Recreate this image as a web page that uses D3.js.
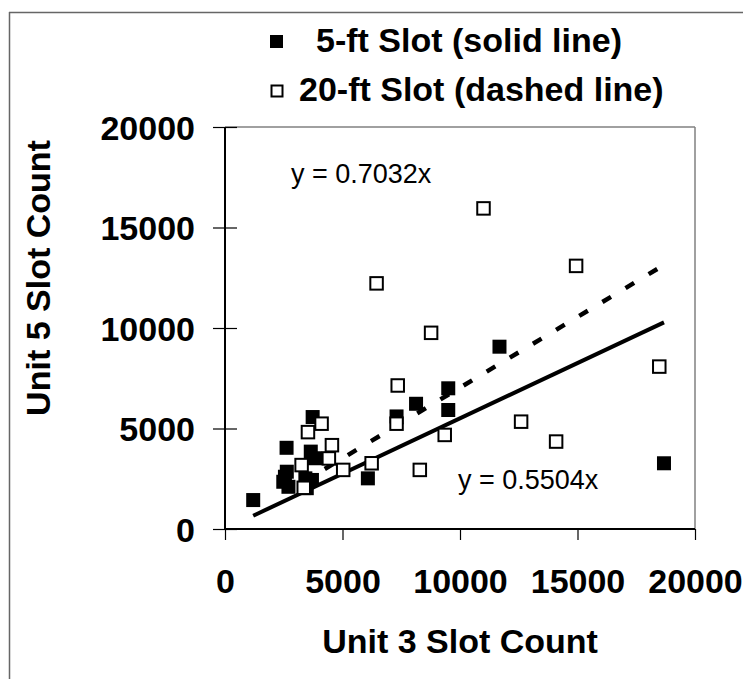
<!DOCTYPE html>
<html>
<head>
<meta charset="utf-8">
<script src="https://cdn.jsdelivr.net/npm/d3@7"></script>
<style>
  html, body { margin: 0; padding: 0; background: #fff; }
  svg { display: block; }
  text { font-family: "Liberation Sans", Arial, sans-serif; fill: #000; }
</style>
</head>
<body>
<svg id="chart" width="743" height="679"></svg>
<script>
// ---- data ----
const slot5ft = [
  [1200, 1440], [2620, 4040], [3730, 5570], [3650, 3850], [3830, 3520],
  [2630, 2850], [2550, 2600], [2480, 2350], [2700, 2100], [3420, 2520],
  [3700, 2440], [3480, 2030], [6080, 2520], [7300, 5600], [8130, 6230],
  [9500, 7000], [9500, 5920], [11680, 9070], [18680, 3270]
];
const slot20ft = [
  [3260, 3180], [3350, 2050], [3530, 4820], [4110, 5240], [4550, 4170],
  [4420, 3510], [5030, 2940], [6240, 3270], [6450, 12220], [7350, 7140],
  [7300, 5240], [8290, 2940], [8770, 9760], [9350, 4680], [11000, 15950],
  [12600, 5340], [14090, 4350], [14940, 13090], [18480, 8080]
];
const slopes = { solid: 0.5504, dashed: 0.7032 };
const xTicks = [0, 5000, 10000, 15000, 20000];
const yTicks = [0, 5000, 10000, 15000, 20000];
const legendLabels = ["5-ft Slot (solid line)", "20-ft Slot (dashed line)"];
const eqLabels = ["y = 0.7032x", "y = 0.5504x"];
const xTitle = "Unit 3 Slot Count";
const yTitle = "Unit 5 Slot Count";

// ---- layout ----
const svg = d3.select("#chart");
const L = 225, R = 695, T = 127, B = 529;
const x = d3.scaleLinear().domain([0, 20000]).range([L, R]);
const y = d3.scaleLinear().domain([0, 20000]).range([B, T]);

// outer frame
svg.append("line").attr("x1", 9.5).attr("x2", 9.5).attr("y1", 12).attr("y2", 679)
  .attr("stroke", "#666").attr("stroke-width", 1.5);
svg.append("line").attr("x1", 9).attr("x2", 743).attr("y1", 12.5).attr("y2", 12.5)
  .attr("stroke", "#666").attr("stroke-width", 1.5);

// plot area border (top & right, gray)
svg.append("line").attr("x1", L).attr("x2", R).attr("y1", T).attr("y2", T)
  .attr("stroke", "#808080").attr("stroke-width", 1.5);
svg.append("line").attr("x1", R).attr("x2", R).attr("y1", T).attr("y2", B)
  .attr("stroke", "#808080").attr("stroke-width", 1.5);

// y axis
const yAxis = svg.append("g").attr("transform", `translate(${L},0)`)
  .call(d3.axisLeft(y).tickValues(yTicks).tickFormat(d3.format("d")).tickSize(12).tickPadding(18));
yAxis.select(".domain").attr("stroke", "#000").attr("stroke-width", 2)
  .attr("d", `M0,${B}V${T}`);
yAxis.selectAll(".tick line").attr("x1", -12).attr("x2", 12).attr("stroke", "#000").attr("stroke-width", 1.2);
yAxis.selectAll(".tick text").attr("font-size", 34).attr("font-weight", "bold")
  .attr("font-family", "Liberation Sans, Arial, sans-serif").attr("dy", "0.36em");

// x axis
const xAxis = svg.append("g").attr("transform", `translate(0,${B})`)
  .call(d3.axisBottom(x).tickValues(xTicks).tickFormat(d3.format("d")).tickSize(11).tickPadding(0));
xAxis.select(".domain").attr("stroke", "#000").attr("stroke-width", 2)
  .attr("d", `M${L},0H${R}`);
xAxis.selectAll(".tick line").attr("stroke", "#000").attr("stroke-width", 1.2);
xAxis.selectAll(".tick text").attr("font-size", 34).attr("font-weight", "bold")
  .attr("font-family", "Liberation Sans, Arial, sans-serif").attr("y", 64).attr("dy", 0);

// trend lines
const line = d3.line().x(d => x(d[0])).y(d => y(d[1]));
const ext5 = d3.extent(slot5ft, d => d[0]);
const ext20 = d3.extent(slot20ft, d => d[0]);
svg.append("path")
  .datum(ext5.map(v => [v, v * slopes.solid]))
  .attr("d", line).attr("fill", "none").attr("stroke", "#000").attr("stroke-width", 4);
svg.append("path")
  .datum(ext20.map(v => [v, v * slopes.dashed]))
  .attr("d", line).attr("fill", "none").attr("stroke", "#000").attr("stroke-width", 4.5)
  .attr("stroke-dasharray", "10,17");

// markers
const S = 14, So = 12.5;
svg.append("g").selectAll("rect").data(slot5ft).join("rect")
  .attr("x", d => x(d[0]) - S / 2).attr("y", d => y(d[1]) - S / 2)
  .attr("width", S).attr("height", S).attr("fill", "#000");
svg.append("g").selectAll("rect").data(slot20ft).join("rect")
  .attr("x", d => x(d[0]) - So / 2).attr("y", d => y(d[1]) - So / 2)
  .attr("width", So).attr("height", So).attr("fill", "#fff")
  .attr("stroke", "#000").attr("stroke-width", 2);

// equation labels
svg.append("text").attr("x", 291).attr("y", 183).attr("font-size", 27).text(eqLabels[0]);
svg.append("text").attr("x", 458).attr("y", 489).attr("font-size", 27).text(eqLabels[1]);

// legend
svg.append("rect").attr("x", 270).attr("y", 35).attr("width", 13).attr("height", 13).attr("fill", "#000");
svg.append("text").attr("x", 316).attr("y", 52).attr("font-size", 34).attr("font-weight", "bold").text(legendLabels[0]);
svg.append("rect").attr("x", 271.5).attr("y", 85.5).attr("width", 11).attr("height", 11)
  .attr("fill", "#fff").attr("stroke", "#000").attr("stroke-width", 2);
svg.append("text").attr("x", 299).attr("y", 101).attr("font-size", 34).attr("font-weight", "bold").text(legendLabels[1]);

// axis titles
svg.append("text").attr("x", (L + R) / 2).attr("y", 653).attr("text-anchor", "middle")
  .attr("font-size", 34).attr("font-weight", "bold").text(xTitle);
svg.append("text").attr("transform", "translate(50,278) rotate(-90)").attr("text-anchor", "middle")
  .attr("font-size", 34).attr("font-weight", "bold").text(yTitle);
</script>
</body>
</html>
